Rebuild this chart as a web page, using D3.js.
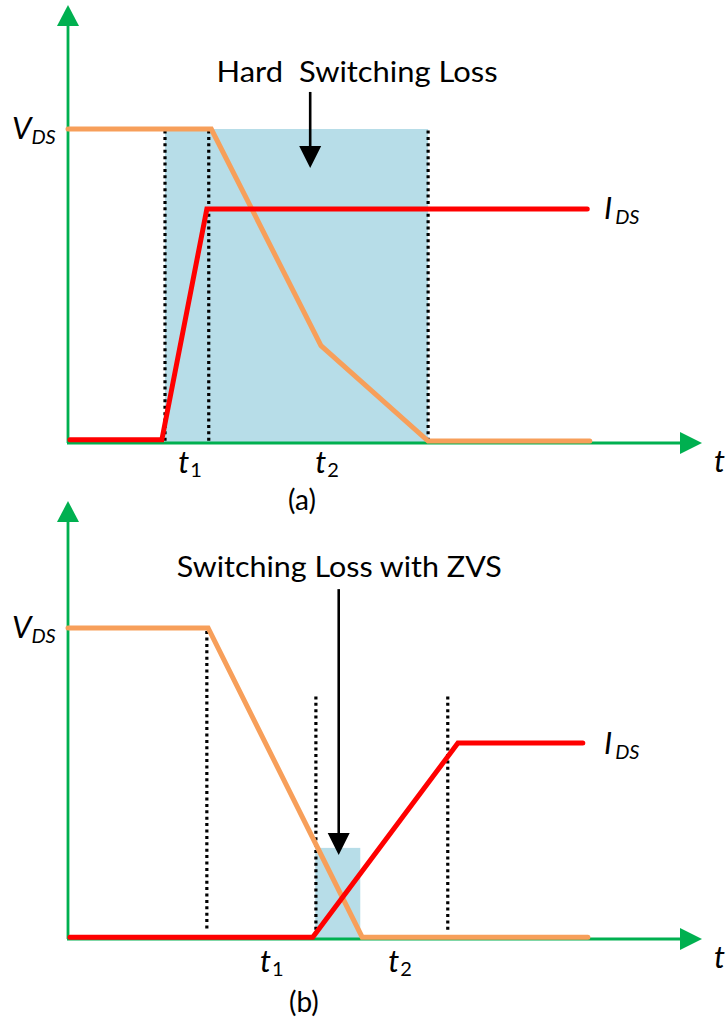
<!DOCTYPE html>
<html>
<head>
<meta charset="utf-8">
<script src="https://cdn.jsdelivr.net/npm/d3@7"></script>
<style>
  html, body { margin: 0; padding: 0; background: #ffffff; }
  svg { display: block; }
  text { font-family: Lato, "Open Sans", "Noto Sans", sans-serif; fill: #000; }
</style>
</head>
<body>
<svg id="chart" width="728" height="1023"></svg>
<script>
// ---------- Panel (a): hard switching ----------
// time in arbitrary units (axis origin = 0), levels normalised to V_DS = 1
const vdsTimeA   = [0, 2.26, 3.99, 5.68, 8.23];
const vdsLevelA  = [1, 1, 0.31, 0.006, 0.006];
const idsTimeA   = [0.03, 1.48, 2.19, 8.19];
const idsLevelA  = [0.01, 0.01, 0.745, 0.745];
const markerTimeA = [1.53, 2.22, 5.68];
const markerSpanA = [[0.005, 0.995], [0.005, 0.995], [0.005, 0.995]];
const lossSpanA  = [1.53, 5.68];
const lossLevelA = [0, 1];
const tickTimeA  = [1.74, 3.90];
const tickNames  = ["1", "2"];

// ---------- Panel (b): zero-voltage switching ----------
const vdsTimeB   = [0, 2.21, 4.64, 8.20];
const vdsLevelB  = [1, 1, 0.006, 0.006];
const idsTimeB   = [0.03, 3.86, 6.15, 8.12];
const idsLevelB  = [0.006, 0.006, 0.63, 0.63];
const markerTimeB = [2.19, 3.91, 5.99];
const markerSpanB = [[0.03, 0.99], [0.03, 0.78], [0.03, 0.78]];
const lossSpanB  = [3.90, 4.61];
const lossLevelB = [0, 0.293];
const tickTimeB  = [3.03, 5.05];

const panels = [
  { yRange: [443, 129], vT: vdsTimeA, vL: vdsLevelA, iT: idsTimeA, iL: idsLevelA,
    mT: markerTimeA, mS: markerSpanA, lossX: lossSpanA, lossY: lossLevelA,
    ticks: tickTimeA, title: "Hard  Switching Loss", titleT: 4.56, titleL: 1.15, titleW: 281,
    arrowT: 3.82, arrowFrom: 1.118, arrowTo: 0.876, caption: "(a)", captionT: 3.69, captionY: 510,
    tickY: 473, idsLabelY: 219 },
  { yRange: [939, 628], vT: vdsTimeB, vL: vdsLevelB, iT: idsTimeB, iL: idsLevelB,
    mT: markerTimeB, mS: markerSpanB, lossX: lossSpanB, lossY: lossLevelB,
    ticks: tickTimeB, title: "Switching Loss with ZVS", titleT: 4.28, titleL: 1.164, titleW: 325,
    arrowT: 4.27, arrowFrom: 1.125, arrowTo: 0.27, caption: "(b)", captionT: 3.72, captionY: 1012,
    tickY: 972, idsLabelY: 754 }
];

const COLORS = { axis: "#00b050", vds: "#f79f5a", ids: "#ff0000", loss: "#b7dde8", marker: "#000000" };

const svg = d3.select("#chart");
const x = d3.scaleLinear().domain([0, 10]).range([68, 702]);

panels.forEach(p => {
  const y = d3.scaleLinear().domain([0, 1]).range(p.yRange);
  const g = svg.append("g");

  // shaded loss region
  g.append("rect")
    .attr("x", x(p.lossX[0]))
    .attr("y", y(p.lossY[1]))
    .attr("width", x(p.lossX[1]) - x(p.lossX[0]))
    .attr("height", y(p.lossY[0]) - y(p.lossY[1]))
    .attr("fill", COLORS.loss);

  // dotted time markers
  g.selectAll("line.marker")
    .data(p.mT.map((t, i) => ({ t, span: p.mS[i] })))
    .join("line")
    .attr("class", "marker")
    .attr("x1", d => x(d.t)).attr("x2", d => x(d.t))
    .attr("y1", d => y(d.span[1])).attr("y2", d => y(d.span[0]))
    .attr("stroke", COLORS.marker)
    .attr("stroke-width", 3.2)
    .attr("stroke-dasharray", "3,3.4");

  // axes with arrowheads
  const yTop = y.invert(p.yRange[0] - 438);
  g.append("line")
    .attr("x1", x(0)).attr("x2", x(0))
    .attr("y1", y(0)).attr("y2", y(yTop) + 18)
    .attr("stroke", COLORS.axis).attr("stroke-width", 2.8);
  g.append("path")
    .attr("d", `M${x(0)},${y(yTop)} L${x(0) - 11},${y(yTop) + 21} L${x(0) + 11},${y(yTop) + 21} Z`)
    .attr("fill", COLORS.axis);
  g.append("line")
    .attr("x1", x(0) - 1).attr("x2", x(10) - 18)
    .attr("y1", y(0)).attr("y2", y(0))
    .attr("stroke", COLORS.axis).attr("stroke-width", 2.8);
  g.append("path")
    .attr("d", `M${x(10)},${y(0)} L${x(10) - 22},${y(0) - 11} L${x(10) - 22},${y(0) + 11} Z`)
    .attr("fill", COLORS.axis);

  const line = d3.line().x(d => x(d[0])).y(d => y(d[1]));

  // V_DS waveform
  g.append("path")
    .attr("d", line(p.vT.map((t, i) => [t, p.vL[i]])))
    .attr("fill", "none").attr("stroke", COLORS.vds)
    .attr("stroke-width", 5).attr("stroke-linecap", "round").attr("stroke-linejoin", "miter");

  // I_DS waveform
  g.append("path")
    .attr("d", line(p.iT.map((t, i) => [t, p.iL[i]])))
    .attr("fill", "none").attr("stroke", COLORS.ids)
    .attr("stroke-width", 5).attr("stroke-linecap", "round").attr("stroke-linejoin", "miter");

  // annotation title and arrow
  g.append("text")
    .attr("x", x(p.titleT)).attr("y", y(p.titleL))
    .attr("text-anchor", "middle")
    .style("white-space", "pre")
    .attr("font-size", 29)
    .attr("textLength", p.titleW).attr("lengthAdjust", "spacingAndGlyphs")
    .text(p.title);
  g.append("line")
    .attr("x1", x(p.arrowT)).attr("x2", x(p.arrowT))
    .attr("y1", y(p.arrowFrom)).attr("y2", y(p.arrowTo) - 18)
    .attr("stroke", "#000").attr("stroke-width", 2.6);
  g.append("path")
    .attr("d", `M${x(p.arrowT)},${y(p.arrowTo)} L${x(p.arrowT) - 11},${y(p.arrowTo) - 22} L${x(p.arrowT) + 11},${y(p.arrowTo) - 22} Z`)
    .attr("fill", "#000");

  // V_DS label
  const vl = g.append("text").attr("x", 12).attr("y", y(1) + 10).attr("font-style", "italic");
  vl.append("tspan").attr("font-size", 31).text("V");
  vl.append("tspan").attr("font-size", 20).attr("dy", 5).text("DS");

  // I_DS label
  const il = g.append("text").attr("x", 604).attr("y", p.idsLabelY).attr("font-style", "italic");
  il.append("tspan").attr("font-size", 31).text("I");
  il.append("tspan").attr("font-size", 20).attr("dx", 3).attr("dy", 5).text("DS");

  // time axis label
  g.append("text").attr("x", 714).attr("y", y(0) + 29)
    .attr("font-style", "italic").attr("font-size", 31).text("t");

  // t1 / t2 labels
  p.ticks.forEach((t, i) => {
    const tl = g.append("text").attr("x", x(t)).attr("y", p.tickY);
    tl.append("tspan").attr("font-style", "italic").attr("font-size", 31).text("t");
    tl.append("tspan").attr("font-size", 20).attr("dx", 1).attr("dy", 4).text(tickNames[i]);
  });

  // caption
  g.append("text").attr("x", x(p.captionT)).attr("y", p.captionY)
    .attr("text-anchor", "middle").attr("font-size", 28).text(p.caption);
});
</script>
</body>
</html>
